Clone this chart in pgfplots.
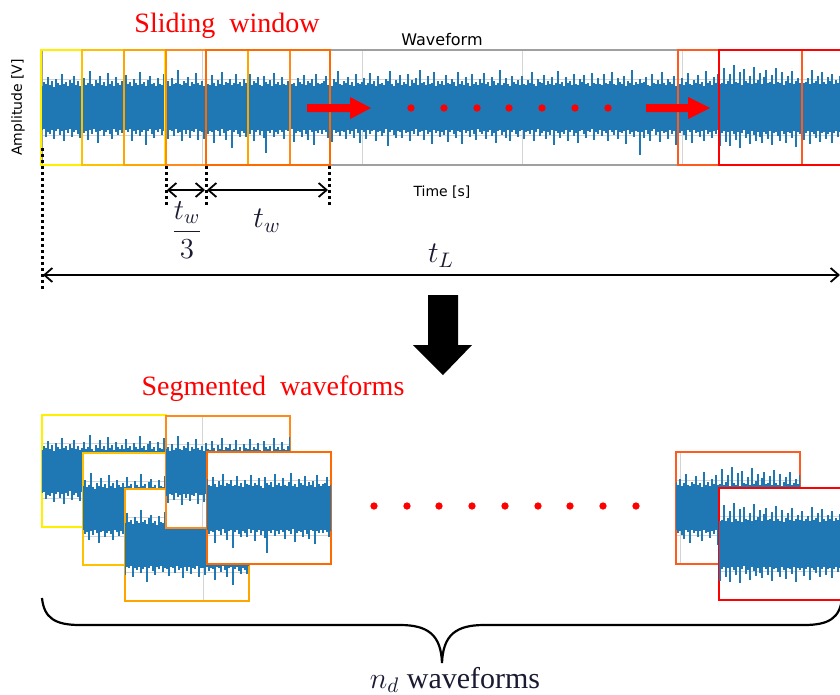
\RequirePackage{fix-cm}
\documentclass[border=0pt]{standalone}
\usepackage[no-math]{fontspec}
\setmainfont{Liberation Serif}
\newfontfamily\dejavu{DejaVu Sans}
\usepackage{pgfplots}
\pgfplotsset{compat=1.18}
\usepackage{pgfplotstable}
\usetikzlibrary{arrows.meta}

\definecolor{wblue}{HTML}{1F77B4}
\definecolor{cA}{HTML}{FFF000}
\definecolor{cB}{HTML}{FFC000}
\definecolor{cC}{HTML}{FFA500}
\definecolor{cD}{HTML}{FF8A1A}
\definecolor{cE}{HTML}{FF6A00}
\definecolor{cF}{HTML}{FF5A1F}
\definecolor{cG}{HTML}{FF0000}
\definecolor{ink}{HTML}{1A1A33}
\definecolor{gridc}{HTML}{D4D4D4}
\definecolor{framec}{HTML}{A0A0A0}

\pgfplotstableread[row sep=\\]{u l\\
0.78 -0.82\\0.92 -0.76\\0.85 -1.04\\1.10 -0.88\\0.80 -0.93\\0.96 -0.79\\0.74 -1.12\\1.02 -0.85\\0.88 -0.77\\0.79 -0.98\\
1.21 -0.84\\0.84 -1.20\\0.90 -0.80\\0.76 -0.91\\0.99 -0.75\\0.86 -1.06\\1.14 -0.87\\0.81 -0.82\\0.93 -0.95\\0.77 -1.10\\
0.83 -0.78\\1.05 -0.90\\0.79 -0.84\\0.88 -1.15\\1.30 -0.81\\0.82 -0.96\\0.75 -0.76\\0.97 -0.89\\0.86 -1.25\\1.12 -0.83\\
0.80 -0.79\\0.91 -1.02\\0.78 -0.87\\1.24 -0.80\\0.85 -0.93\\0.94 -1.13\\0.77 -0.78\\1.08 -0.86\\0.89 -0.99\\0.81 -0.82\\
0.95 -0.91\\0.79 -1.08\\1.16 -0.80\\0.84 -0.86\\0.90 -0.77\\0.76 -1.18\\1.03 -0.84\\0.87 -0.93\\0.80 -0.79\\1.27 -1.01\\
0.83 -0.88\\0.92 -0.82\\0.78 -1.35\\0.98 -0.85\\1.11 -0.78\\0.82 -0.95\\0.88 -1.09\\0.75 -0.81\\1.06 -0.87\\0.85 -0.76\\
0.80 -0.97\\1.19 -0.83\\0.86 -0.88\\0.93 -1.14\\0.77 -0.80\\1.04 -0.85\\0.82 -1.03\\0.89 -0.77\\1.33 -0.92\\0.84 -0.86\\
0.79 -1.21\\0.96 -0.81\\0.88 -0.94\\1.09 -0.79\\0.76 -1.07\\0.91 -0.84\\0.83 -0.89\\1.22 -0.78\\0.87 -1.16\\0.80 -0.83\\
0.94 -0.86\\0.78 -1.11\\1.07 -0.79\\0.85 -0.95\\0.81 -0.83\\1.15 -0.88\\0.89 -1.28\\0.76 -0.80\\0.99 -0.85\\0.84 -1.00\\
1.26 -0.77\\0.80 -0.92\\0.92 -1.17\\0.87 -0.84\\1.02 -0.81\\0.79 -1.45\\0.86 -0.87\\1.18 -0.79\\0.82 -0.96\\0.90 -1.05\\
0.77 -0.84\\1.01 -0.90\\0.88 -1.06\\0.83 -0.78\\1.20 -0.93\\0.79 -0.82\\0.93 -1.19\\0.86 -0.87\\1.08 -0.80\\0.81 -0.99\\
0.75 -0.85\\1.13 -1.10\\0.90 -1.63\\0.84 -0.83\\0.97 -0.91\\0.78 -0.79\\1.24 -1.04\\0.85 -0.86\\0.91 -0.95\\0.80 -0.81\\
1.10 -0.88\\0.84 -1.13\\0.79 -0.80\\0.95 -0.85\\1.28 -0.97\\0.82 -0.78\\0.88 -1.24\\0.76 -0.90\\1.05 -0.83\\0.91 -0.87\\
0.83 -1.05\\1.17 -0.81\\0.80 -0.94\\0.94 -1.15\\0.86 -0.79\\1.00 -0.86\\0.78 -1.32\\1.21 -0.84\\0.89 -0.92\\0.82 -0.80\\
0.87 -0.93\\0.93 -0.81\\1.14 -0.88\\0.80 -1.07\\0.85 -0.84\\0.77 -1.22\\1.02 -0.79\\0.90 -0.91\\1.31 -0.86\\0.83 -1.01\\
0.79 -0.83\\0.96 -0.89\\0.88 -1.14\\1.09 -0.80\\0.81 -0.96\\0.92 -0.85\\0.76 -1.09\\1.19 -0.78\\0.86 -0.90\\0.84 -1.26\\
0.91 -0.82\\1.06 -0.87\\0.79 -1.12\\0.87 -0.79\\1.23 -0.94\\0.82 -0.85\\0.95 -0.80\\0.78 -1.18\\1.12 -0.88\\0.85 -0.83\\
0.89 -1.03\\0.80 -0.91\\1.01 -0.78\\0.94 -1.38\\1.29 -0.86\\0.83 -0.82\\0.77 -0.97\\0.98 -1.08\\0.86 -0.84\\1.15 -0.89\\
0.81 -1.09\\0.90 -0.80\\0.84 -0.91\\1.20 -0.86\\0.78 -1.20\\0.97 -0.83\\0.87 -0.95\\1.04 -0.78\\0.80 -1.02\\1.34 -0.89\\
0.86 -0.84\\0.92 -1.16\\0.79 -0.81\\1.11 -0.93\\0.83 -0.87\\0.88 -1.29\\1.25 -0.79\\0.77 -0.90\\0.95 -0.85\\0.85 -1.04\\
0.93 -0.86\\0.79 -0.99\\1.16 -0.81\\0.86 -1.23\\0.82 -0.88\\1.03 -0.79\\0.90 -0.94\\0.76 -1.10\\1.27 -0.83\\0.84 -0.87\\
0.96 -1.31\\0.81 -0.80\\1.08 -0.92\\0.88 -0.85\\0.78 -1.06\\1.19 -0.82\\0.85 -0.96\\0.92 -1.17\\0.80 -0.78\\1.00 -0.89\\
0.87 -0.94\\1.22 -0.83\\0.83 -1.12\\0.91 -0.87\\0.78 -0.80\\1.09 -1.01\\0.95 -0.90\\0.81 -1.27\\0.86 -0.84\\1.32 -0.79\\
0.80 -0.97\\0.89 -0.86\\1.05 -1.09\\0.84 -0.82\\0.77 -1.19\\1.14 -0.88\\0.92 -0.81\\0.82 -0.93\\0.99 -1.05\\0.79 -0.85\\
1.13 -0.80\\0.85 -1.14\\0.80 -0.89\\0.97 -0.84\\0.88 -0.96\\1.26 -0.81\\0.83 -1.21\\0.78 -0.87\\1.02 -0.78\\0.91 -1.03\\
0.86 -0.92\\1.17 -0.83\\0.79 -1.11\\0.94 -0.86\\0.84 -0.98\\1.07 -0.79\\0.81 -1.34\\0.89 -0.85\\1.30 -0.90\\0.82 -1.07\\
0.90 -0.88\\0.77 -0.93\\1.10 -0.82\\0.86 -1.18\\0.95 -0.86\\0.81 -0.79\\1.21 -1.00\\0.84 -0.91\\0.79 -1.25\\1.00 -0.84\\
0.92 -0.80\\1.15 -0.95\\0.83 -1.08\\0.87 -0.83\\0.76 -0.89\\1.24 -0.78\\0.89 -1.16\\0.82 -0.87\\1.04 -0.94\\0.85 -0.81\\
0.80 -1.02\\1.18 -0.85\\0.88 -0.90\\0.84 -1.21\\0.96 -0.82\\1.28 -0.88\\0.82 -0.97\\0.79 -0.80\\1.06 -1.13\\0.90 -0.86\\
0.85 -0.92\\1.12 -0.84\\0.78 -1.30\\0.93 -0.79\\0.87 -0.95\\1.35 -0.87\\0.81 -1.05\\0.91 -0.83\\0.83 -0.89\\1.01 -1.70\\
0.86 -0.87\\0.92 -1.09\\1.09 -0.81\\0.80 -0.93\\0.77 -1.19\\1.20 -0.84\\0.89 -0.78\\0.84 -0.99\\0.98 -0.88\\0.82 -1.24\\
1.27 -0.83\\0.87 -0.90\\0.79 -0.86\\1.03 -1.12\\0.91 -0.80\\0.85 -0.96\\1.14 -0.85\\0.78 -1.33\\0.94 -0.82\\0.83 -0.91\\
1.05 -0.85\\0.81 -0.97\\0.90 -1.15\\1.23 -0.82\\0.85 -0.88\\0.79 -1.28\\0.97 -0.80\\0.88 -0.91\\1.16 -0.86\\0.83 -1.06\\
0.92 -0.84\\0.78 -1.20\\1.31 -0.79\\0.86 -0.93\\0.94 -0.87\\0.80 -1.10\\1.08 -0.83\\0.89 -0.96\\1.19 -0.81\\0.84 -1.36\\
0.88 -0.92\\1.42 -0.84\\0.84 -1.22\\0.95 -0.88\\1.20 -1.38\\0.82 -0.83\\1.50 -0.96\\0.90 -1.15\\0.86 -0.86\\1.28 -1.44\\
0.80 -0.90\\1.36 -0.82\\0.93 -1.10\\0.87 -0.94\\1.12 -1.30\\0.83 -0.85\\1.45 -0.99\\0.89 -1.18\\0.98 -0.87\\1.24 -1.06\\
0.85 -1.25\\1.09 -0.86\\1.33 -0.93\\0.88 -1.12\\0.92 -0.84\\1.17 -1.35\\0.83 -0.90\\1.40 -0.87\\0.90 -1.02\\0.86 -1.19\\
1.25 -0.83\\0.81 -0.95\\0.96 -1.28\\1.13 -0.88\\0.87 -0.91\\1.30 -1.08\\0.84 -0.85\\0.93 -1.40\\1.06 -0.89\\0.89 -0.94\\
1.22 -0.88\\0.86 -1.16\\0.91 -0.92\\1.04 -0.85\\0.83 -1.31\\1.35 -0.89\\0.88 -0.95\\0.95 -1.07\\1.14 -0.84\\0.82 -1.22\\
1.27 -0.90\\0.90 -0.86\\0.85 -1.13\\1.08 -0.93\\0.93 -0.87\\1.19 -1.26\\0.84 -0.91\\0.97 -0.85\\0.87 -1.04\\1.11 -0.89\\
0.86 -0.90\\
}\wave

\pgfplotsset{
  wavebase/.style={scale only axis, ymin=-2.05, ymax=2.05,
    xtick={0,1,2,3,4,5}, ytick={-1,0,1}, xticklabels={}, yticklabels={},
    major tick length=0pt, grid=major, grid style={gridc, line width=0.5pt},
    axis background/.style={fill=white}},
  seg/.style={wavebase, width=62pt, height=56pt, axis line style={#1, line width=1.3pt}},
}
\newcommand{\waveplot}{%
  \addplot[ycomb, wblue, line width=1.05pt, mark=none] table[x expr=\coordindex/80, y=u]{\wave};
  \addplot[ycomb, wblue, line width=1.05pt, mark=none] table[x expr=\coordindex/80, y=l]{\wave};
}
\newcommand{\seg}[5]{%
  \begin{axis}[seg=#5, at={(#1,#2)}, anchor=north west, xmin=#3, xmax=#4]
  \waveplot
  \end{axis}}

\begin{document}
\begin{tikzpicture}[x=0.5pt,y=-0.5pt]
\useasboundingbox (0pt,0pt) rectangle (420pt,-347.5pt);

% main waveform axis
\begin{axis}[wavebase, at={(21pt,-25pt)}, anchor=north west, width=400pt, height=57.5pt,
  xmin=0, xmax=5, clip=false, axis line style={framec, line width=0.6pt},
  title={\dejavu\fontsize{8}{9}\selectfont Waveform},
  every axis title/.style={at={(axis description cs:0.5,1)}, anchor=base, yshift=2pt, inner sep=0pt},
  xlabel={\dejavu\fontsize{7}{8}\selectfont Time [s]},
  ylabel={\dejavu\fontsize{7}{8}\selectfont Amplitude [V]},
  xlabel style={at={(axis description cs:0.5,-0.235)}, anchor=center},
  ylabel style={at={(axis description cs:-0.03,0.5)}, anchor=center}]
\waveplot
\draw[cA, line width=1pt] (axis cs:-0.006,-2.05) rectangle (axis cs:0.769,2.05);
\draw[cB, line width=1pt] (axis cs:0.25,-2.05) rectangle (axis cs:1.025,2.05);
\draw[cC, line width=1pt] (axis cs:0.5125,-2.05) rectangle (axis cs:1.2875,2.05);
\draw[cD, line width=1pt] (axis cs:0.775,-2.05) rectangle (axis cs:1.55,2.05);
\draw[cE, line width=1pt] (axis cs:1.025,-2.05) rectangle (axis cs:1.8,2.05);
\draw[cF, line width=1pt] (axis cs:3.975,-2.05) rectangle (axis cs:4.75,2.05);
\draw[cG, line width=1pt] (axis cs:4.231,-2.05) rectangle (axis cs:5.006,2.05);
\end{axis}

% segmented waveforms
\seg{21pt}{-207.5pt}{0}{0.775}{cA}
\seg{41.5pt}{-226.5pt}{0.25}{1.025}{cB}
\seg{62.5pt}{-244.5pt}{0.5125}{1.2875}{cC}
\seg{83pt}{-208pt}{0.775}{1.55}{cD}
\seg{103.5pt}{-226pt}{1.025}{1.8}{cE}
\seg{338pt}{-226pt}{3.975}{4.75}{cF}
\seg{359.5pt}{-244pt}{4.231}{5.006}{cG}

% overlay in pixel coordinates
\begin{axis}[at={(0pt,0pt)}, anchor=north west, width=420pt, height=347.5pt, scale only axis,
  xmin=0, xmax=840, ymin=0, ymax=695, y dir=reverse, hide axis, clip=false]
\addplot[only marks, mark=*, mark size=1.6pt, color=red, mark options={draw=red, fill=red}] coordinates {
 (411,108) (444,108) (477,108) (509,108) (542,108) (575,108) (608,108)
 (374,506) (407,506) (439,506) (472,506) (505,506) (538,506) (570,506) (603,506) (636,506)};
% red arrows
\fill[red] (307,104)--(350,104)--(350,97)--(371,108)--(350,119)--(350,112)--(307,112)--cycle;
\fill[red] (646,104)--(688,104)--(688,97)--(710,108)--(688,119)--(688,112)--(646,112)--cycle;
% black down arrow
\fill[black] (428,295)--(458,295)--(458,345)--(472,345)--(443,375)--(413,345)--(428,345)--cycle;
% dotted guides
\draw[line width=1.5pt, dash pattern=on 1.5pt off 1.5pt] (42,148)--(42,292);
\draw[line width=1.5pt, dash pattern=on 1.5pt off 1.5pt] (166,166)--(166,206);
\draw[line width=1.5pt, dash pattern=on 1.5pt off 1.5pt] (206,166)--(206,206);
\draw[line width=1.5pt, dash pattern=on 1.5pt off 1.5pt] (329,166)--(329,208);
% dimension arrows
\draw[line width=0.9pt, {Straight Barb[length=4pt,width=7pt]}-{Straight Barb[length=4pt,width=7pt]}] (167,190)--(205,190);
\draw[line width=0.9pt, {Straight Barb[length=4pt,width=7pt]}-{Straight Barb[length=4pt,width=7pt]}] (207,190)--(328,190);
\draw[line width=0.9pt, {Straight Barb[length=4pt,width=7pt]}-{Straight Barb[length=4pt,width=7pt]}] (43,275)--(840,275);
% labels
\node[ink, font=\fontsize{14.5}{16}\selectfont] at (187,230) {$\displaystyle\frac{t_w}{3}$};
\node[ink, font=\fontsize{15}{17}\selectfont] at (267,221) {$t_w$};
\node[ink, font=\fontsize{15}{17}\selectfont] at (441,256) {$t_L$};
\node[red, anchor=base, font=\fontsize{14}{16}\selectfont] at (227,32) {Sliding\ \ window};
\node[red, anchor=base, font=\fontsize{14}{16}\selectfont] at (273,395) {Segmented\ \ waveforms};
\node[ink, anchor=base, font=\fontsize{15}{17}\selectfont] at (455,688) {$n_d$ waveforms};
% brace
\draw[line width=1.1pt] (42,598) .. controls (44,618) and (55,625) .. (80,625) -- (400,625)
  .. controls (428,625) and (441,635) .. (442,663) .. controls (443,635) and (456,625) .. (484,625)
  -- (804,625) .. controls (829,625) and (840,618) .. (842,598);
\end{axis}
\end{tikzpicture}
\end{document}
